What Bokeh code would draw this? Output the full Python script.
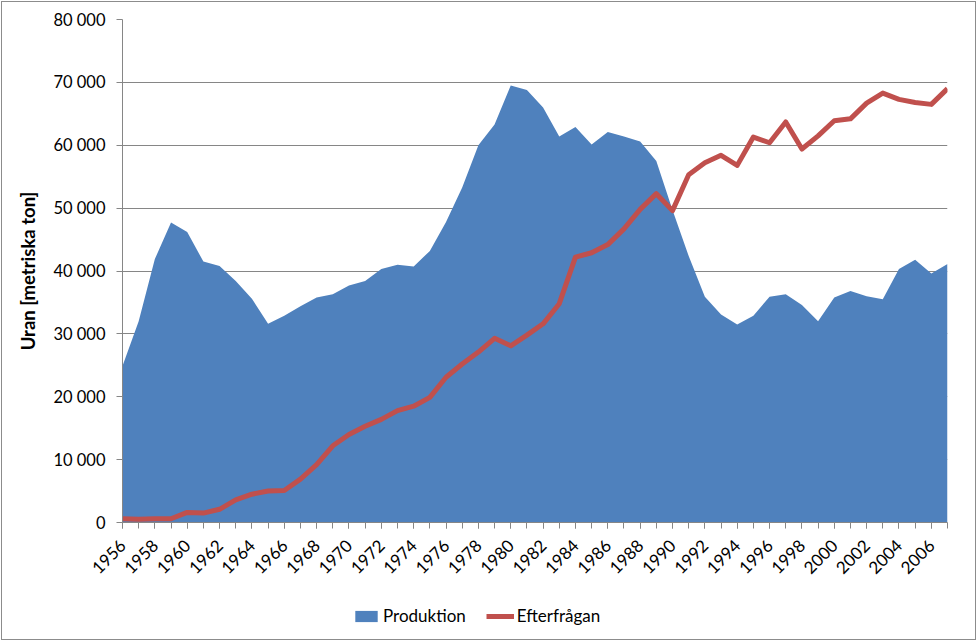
import math
from bokeh.plotting import figure
from bokeh.layouts import column
from bokeh.models import Range1d, FixedTicker, Legend, LegendItem
from bokeh.embed import file_html
from bokeh.resources import INLINE

years = list(range(1956, 2008))
produktion = [
    24900, 32000, 41900, 47700, 46200, 41500, 40800, 38400, 35600, 31600,
    32900, 34400, 35800, 36300, 37700, 38400, 40300, 41000, 40700, 43200,
    47800, 53300, 60000, 63300, 69500, 68800, 66000, 61400, 62900, 60100,
    62100, 61400, 60600, 57500, 49700, 42400, 35900, 33100, 31500, 32900,
    35900, 36300, 34600, 32000, 35800, 36800, 36000, 35500, 40300, 41800,
    39600, 41100,
]
efterfragan = [
    600, 500, 600, 600, 1600, 1500, 2100, 3600, 4500, 5000,
    5100, 6900, 9200, 12200, 14000, 15300, 16400, 17800, 18500, 19900,
    23100, 25200, 27100, 29300, 28100, 29800, 31600, 34800, 42200, 42900,
    44200, 46700, 49800, 52300, 49600, 55300, 57200, 58400, 56800, 61300,
    60400, 63700, 59400, 61500, 63900, 64200, 66700, 68300, 67300, 66800,
    66500, 69000,
]
x_tick_years = list(range(1956, 2007, 2))
y_ticks = [0, 10000, 20000, 30000, 40000, 50000, 60000, 70000, 80000]
y_tick_labels = ["0", "10 000", "20 000", "30 000", "40 000", "50 000",
                 "60 000", "70 000", "80 000"]
y_title = "Uran [metriska ton]"
series_names = ["Produktion", "Efterfrågan"]

FONT = "Lato"
GRID = "#868686"
BLUE = "#4F81BD"
RED = "#C0504D"

p = figure(width=973, height=585,
           output_backend="svg", toolbar_location=None,
           x_range=Range1d(years[0], years[-1]), y_range=Range1d(0, 80000),
           min_border_left=120, min_border_right=28, min_border_top=17,
           min_border_bottom=65)
p.outline_line_color = None
p.background_fill_color = "white"
p.border_fill_color = "white"

area = p.varea(x=years, y1=[0] * len(years), y2=produktion, fill_color=BLUE)
line = p.line(years, efterfragan, line_width=5, line_color=RED, line_join="round")

# axes
xa = p.xaxis[0]
xa.ticker = FixedTicker(ticks=x_tick_years, minor_ticks=years)
xa.major_label_orientation = math.pi / 4
xa.axis_line_color = GRID
xa.major_tick_line_color = GRID
xa.minor_tick_line_color = GRID
xa.major_tick_in = 0
xa.major_tick_out = 6
xa.minor_tick_in = 0
xa.minor_tick_out = 6
xa.major_label_text_font = FONT
xa.major_label_text_font_size = "17px"
xa.major_label_text_color = "black"
xa.major_label_standoff = 14

ya = p.yaxis[0]
ya.ticker = FixedTicker(ticks=y_ticks, minor_ticks=[])
ya.major_label_overrides = {t: l for t, l in zip(y_ticks, y_tick_labels)}
ya.axis_line_color = GRID
ya.major_tick_line_color = GRID
ya.major_tick_in = 0
ya.major_tick_out = 6
ya.minor_tick_line_color = None
ya.major_label_text_font = FONT
ya.major_label_text_font_size = "16.5px"
ya.major_label_text_color = "black"
ya.major_label_standoff = 11
ya.axis_label = y_title
ya.axis_label_text_font = FONT
ya.axis_label_text_font_size = "18.5px"
ya.axis_label_text_font_style = "bold"
ya.axis_label_text_color = "black"
ya.axis_label_standoff = 11

p.xgrid.grid_line_color = None
p.ygrid.grid_line_color = GRID
p.ygrid.ticker = FixedTicker(ticks=y_ticks)

# legend strip below the chart (own small figure so the legend is not clipped)
lf = figure(width=973, height=52, output_backend="svg", toolbar_location=None,
            x_range=Range1d(0, 1), y_range=Range1d(0, 1),
            x_axis_location=None, y_axis_location=None,
            min_border_left=0, min_border_right=0, min_border_top=0,
            min_border_bottom=0)
lf.outline_line_color = None
lf.xgrid.visible = False
lf.ygrid.visible = False
lf.background_fill_color = "white"
lf.border_fill_color = "white"
# stand-in renderers lying outside the strip's ranges: only their legend swatches show
leg_area = lf.varea(x=[5, 6], y1=[5, 5], y2=[6, 6], fill_color=BLUE)
leg_line = lf.line(x=[5, 6], y=[5, 5], line_width=5, line_color=RED)

legend = Legend(items=[LegendItem(label=series_names[0], renderers=[leg_area]),
                       LegendItem(label=series_names[1], renderers=[leg_line])],
                location=(230, 13), orientation="horizontal")
legend.border_line_color = None
legend.background_fill_alpha = 0
legend.label_text_font = FONT
legend.label_text_font_size = "17px"
legend.label_text_color = "black"
legend.glyph_width = 28
legend.glyph_height = 14
legend.spacing = 20
legend.label_standoff = 3
legend.padding = 5
legend.margin = 0
lf.add_layout(legend)

layout = column(p, lf, spacing=0,
                styles={"border": "1px solid #8c8c8c", "margin-left": "1px",
                        "margin-top": "1px"})

open("out.html", "w").write(file_html(layout, INLINE))
